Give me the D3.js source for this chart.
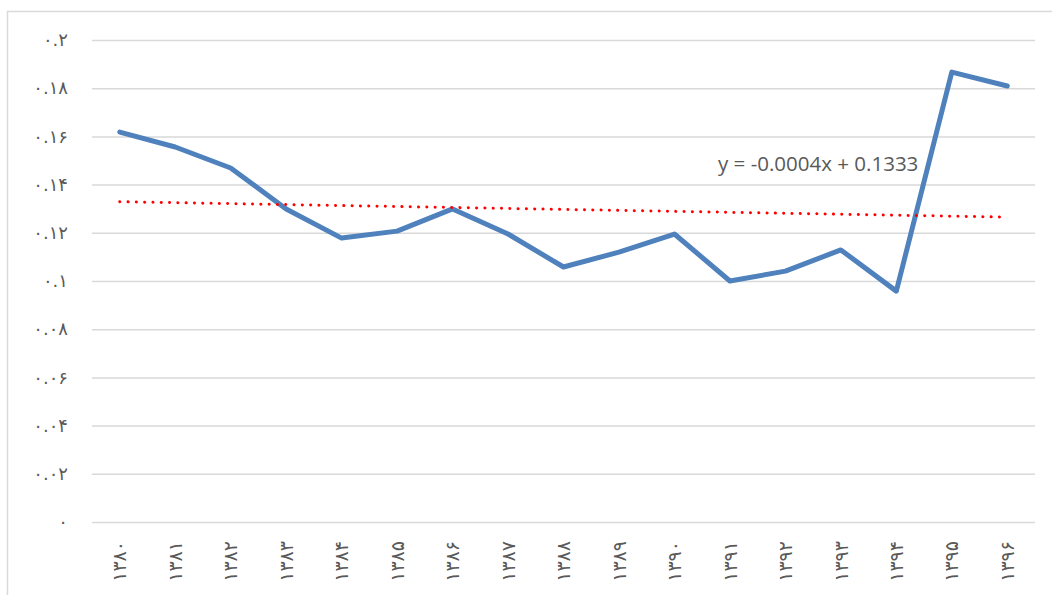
<!DOCTYPE html>
<html><head><meta charset="utf-8">
<script src="https://cdn.jsdelivr.net/npm/d3@7/dist/d3.min.js"></script>
<style>body{margin:0;background:#fff}svg{display:block}</style>
</head><body>
<svg id="c" width="1052" height="595"></svg>
<script>
const categories = ["1380","1381","1382","1383","1384","1385","1386","1387","1388","1389","1390","1391","1392","1393","1394","1395","1396"];
const values = [0.1618,0.1556,0.1469,0.1299,0.1178,0.1207,0.1299,0.1195,0.1058,0.1120,0.1195,0.1000,0.1041,0.1129,0.0958,0.1867,0.1809];
const yTicks = [0,0.02,0.04,0.06,0.08,0.1,0.12,0.14,0.16,0.18,0.2];
const trendSlope = -0.0004, trendIntercept = 0.1333;
const trendLabel = "y = -0.0004x + 0.1333";

const fa = s => String(s).replace(/[0-9]/g, d => "۰۱۲۳۴۵۶۷۸۹"[+d]);
const svg = d3.select("#c");
const mLeft = 92, mRight = 1035, mTop = 40, mBottom = 522;
const x = d3.scaleBand().domain(categories).range([mLeft, mRight]);
const y = d3.scaleLinear().domain([0, 0.2]).range([mBottom, mTop]);

// frame
svg.append("line").attr("x1",7.5).attr("x2",7.5).attr("y1",11).attr("y2",595).attr("stroke","#d9d9d9").attr("stroke-width",1.5);
svg.append("line").attr("x1",7).attr("x2",1052).attr("y1",11.5).attr("y2",11.5).attr("stroke","#d9d9d9").attr("stroke-width",1.5);

// grid
const yAxis = d3.axisLeft(y).tickValues(yTicks).tickSize(-(mRight-mLeft)).tickPadding(24)
  .tickFormat(v => fa(v === 0 ? "0" : String(+v.toFixed(2))));
const ga = svg.append("g").attr("transform",`translate(${mLeft},0)`).call(yAxis);
ga.select(".domain").remove();
ga.selectAll(".tick line").attr("stroke","#d9d9d9").attr("stroke-width",1.5);
ga.selectAll(".tick text").attr("fill","#595959").attr("font-size",18).attr("font-family","DejaVu Sans").attr("font-weight","normal");

// x labels
const xAxis = d3.axisBottom(x).tickSize(0).tickPadding(0).tickFormat(fa);
const gx = svg.append("g").attr("transform",`translate(0,${mBottom})`).call(xAxis);
gx.select(".domain").remove();
gx.selectAll(".tick text").attr("fill","#595959").attr("font-size",19).attr("font-family","DejaVu Sans")
  .attr("text-anchor","end").attr("dy","0.35em").attr("transform","translate(0,19) rotate(-90)").attr("x",0).attr("y",0);

const cx = d => x(d) + x.bandwidth()/2;

// series line
svg.append("path").datum(values)
  .attr("d", d3.line().x((d,i)=>cx(categories[i])).y(d=>y(d)))
  .attr("fill","none").attr("stroke","#4f81bd").attr("stroke-width",5).attr("stroke-linejoin","round").attr("stroke-linecap","round");

// trendline
const trend = categories.map((c,i)=>[cx(c), y(trendSlope*(i+1)+trendIntercept)]);
svg.append("path").datum(trend).attr("d", d3.line())
  .attr("fill","none").attr("stroke","#ff0000").attr("stroke-width",3).attr("stroke-linecap","round").attr("stroke-dasharray","0.1 8.2");

svg.append("text").attr("x",718).attr("y",171).text(trendLabel)
  .attr("fill","#595959").attr("font-size",20.5).attr("font-family","Open Sans, Liberation Sans");
</script>
</body></html>
